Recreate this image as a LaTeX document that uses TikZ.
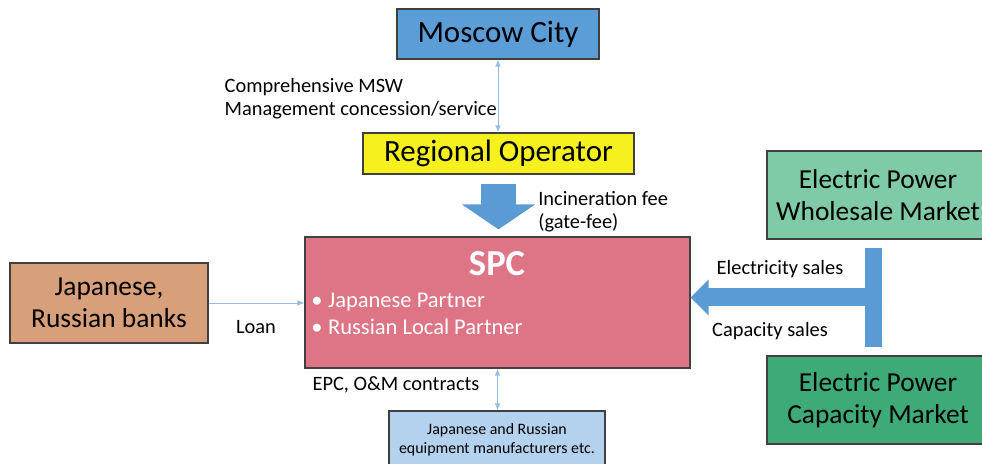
\documentclass[tikz,border=0pt]{standalone}
\usepackage{fontspec}
\setmainfont{Carlito}
\usetikzlibrary{arrows.meta,positioning}

\definecolor{boxline}{RGB}{64,64,64}
\definecolor{cityblue}{RGB}{91,157,215}
\definecolor{opyellow}{RGB}{246,240,30}
\definecolor{spcpink}{RGB}{222,117,135}
\definecolor{banktan}{RGB}{216,160,122}
\definecolor{salegreen}{RGB}{127,203,168}
\definecolor{capgreen}{RGB}{61,170,120}
\definecolor{equipblue}{RGB}{180,210,238}
\definecolor{arrowblue}{RGB}{91,155,213}
\definecolor{linkblue}{RGB}{150,190,228}

\tikzset{
  box/.style={draw=boxline, line width=0.8pt, inner sep=0pt, align=center},
  big/.style={font=\fontsize{22}{26}\selectfont},
  mid/.style={font=\fontsize{19.5}{22.7}\selectfont},
  lbl/.style={font=\fontsize{14.5}{16.5}\selectfont, align=left, inner sep=0pt},
  fatarrow/.style={draw=arrowblue, line width=0.875cm, -{Triangle[width=1.8cm,length=0.625cm]}},
  salearrow/.style={draw=arrowblue, line width=0.45cm, -{Triangle[width=0.875cm,length=0.45cm]}},
  thinlink/.style={draw=linkblue, line width=0.6pt, {Latex[length=5pt,width=4pt]}-{Latex[length=5pt,width=4pt]}},
  thinarrow/.style={draw=linkblue, line width=0.6pt, -{Latex[length=5pt,width=4pt]}}
}

\begin{document}
\begin{tikzpicture}[x=0.025cm,y=-0.025cm]
  \useasboundingbox (0,0) rectangle (982,464);

  % boxes
  \node[box, big, fill=cityblue, minimum width=5.05cm, minimum height=1.25cm] (city) at (498,34) {Moscow City};
  \node[box, big, fill=opyellow, minimum width=6.775cm, minimum height=1.025cm] (oper) at (498.5,153.5) {Regional Operator};
  \node[box, fill=spcpink, minimum width=9.625cm, minimum height=3.275cm] (spc) at (497.5,302.5) {};
  \node[box, mid, fill=banktan, minimum width=4.95cm, minimum height=2cm] (banks) at (109,303) {Japanese,\\Russian banks};
  \node[box, fill=equipblue, minimum width=5.4cm, minimum height=1.45cm,
        font=\fontsize{11.3}{13.5}\selectfont] (equip) at (497,440) {Japanese and Russian\\equipment manufacturers etc.};
  \node[box, mid, fill=salegreen, minimum width=5.55cm, minimum height=2.2cm] (whole) at (878,195) {Electric Power\\Wholesale Market};
  \node[box, mid, fill=capgreen, minimum width=5.55cm, minimum height=2.2cm] (capmkt) at (878,400) {Electric Power\\Capacity Market};
  \node[fill=arrowblue, inner sep=0pt, minimum width=0.425cm, minimum height=2.475cm] (tbar) at (873.5,297.5) {};

  % SPC contents
  \node[text=white, font=\bfseries\fontsize{26}{30}\selectfont] (spctitle) at (497,264) {SPC};
  \node[text=white, anchor=west, align=left, inner sep=0pt,
        font=\fontsize{16}{19.1}\selectfont] (partners) at (311,313.5)
        {\makebox[12pt][l]{\textbullet}Japanese Partner\\\makebox[12pt][l]{\textbullet}Russian Local Partner};

  % connectors
  \draw[thinlink] (city.south) -- (city.south |- oper.north);
  \draw[fatarrow, shorten <=0.225cm, shorten >=0.175cm] (oper.south) -- (oper.south |- spc.north);
  \draw[thinarrow] (banks.east) -- (banks.east -| spc.west);
  \draw[thinlink] (spc.south) -- (spc.south |- equip.north);
  \draw[salearrow] (tbar.east) -- (tbar.east -| spc.east);

  % labels
  \node[lbl, anchor=east] (msw) at (497,98.5) {Comprehensive MSW\\Management concession/service};
  \node[lbl, anchor=west] (fee) at (538,212) {Incineration fee\\(gate-fee)};
  \node[lbl] (loan) at (256,327) {Loan};
  \node[lbl] (epc) at (396,385) {EPC, O\&M contracts};
  \node[lbl] (elec) at (780,269) {Electricity sales};
  \node[lbl] (capsale) at (770,331) {Capacity sales};
\end{tikzpicture}
\end{document}
